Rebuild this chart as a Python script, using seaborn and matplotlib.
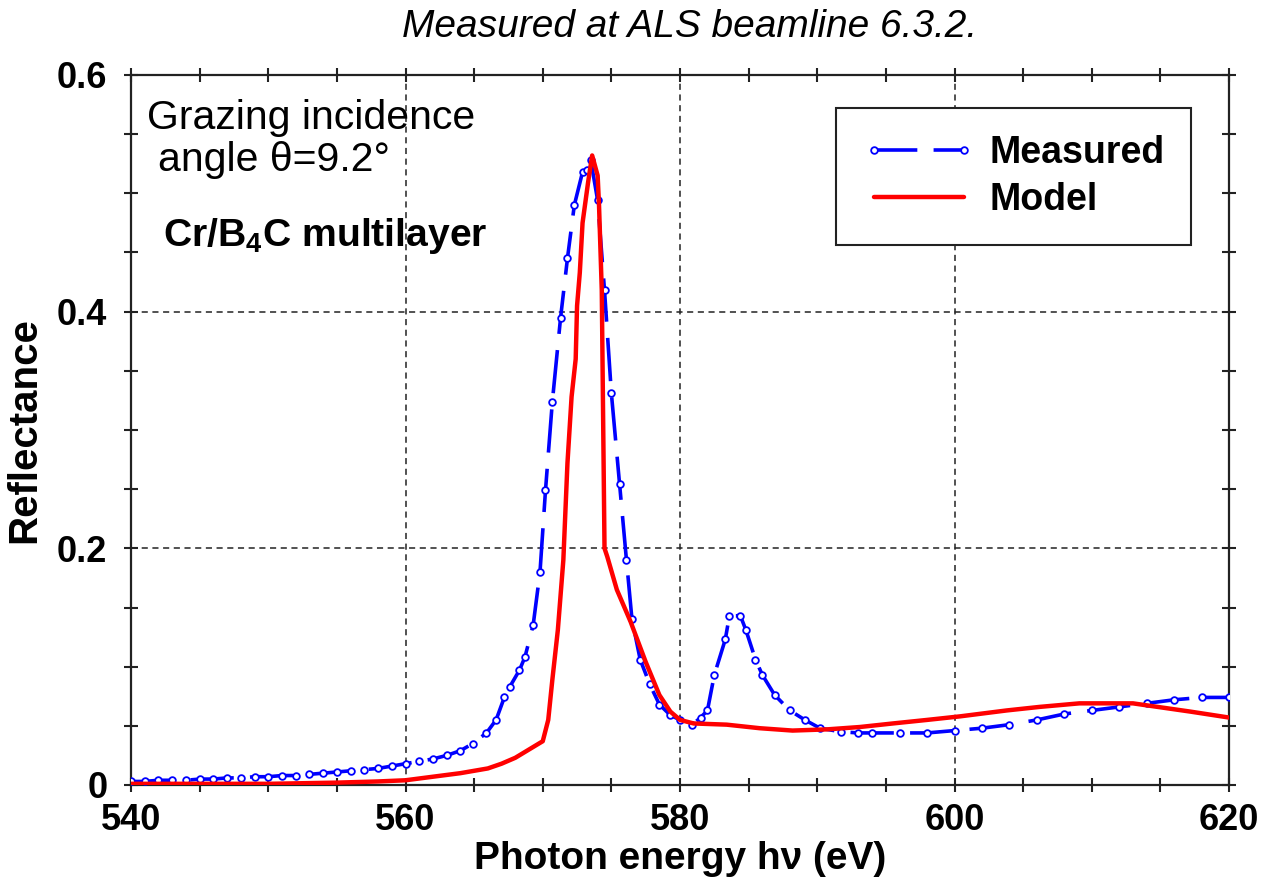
import numpy as np
import pandas as pd
import matplotlib
matplotlib.use("Agg")
import matplotlib.pyplot as plt
import seaborn as sns
from matplotlib.ticker import MultipleLocator

# ---------------- data ----------------
meas_energy = [540, 541, 542, 543, 544, 545, 546, 547, 548, 549, 550, 551, 552, 553,
               554, 555, 556, 557, 558, 559, 560, 561, 562, 563, 564, 564.9, 565.9,
               566.6, 567.2, 567.6, 568.3, 568.7, 569.3, 569.8, 570.2, 570.7, 571.3,
               571.8, 572.3, 572.9, 573.2, 573.5, 574.0, 574.5, 575.0, 575.6, 576.1,
               576.5, 577.1, 577.8, 578.5, 579.3, 580.0, 580.9, 581.5, 582.0, 582.5,
               583.3, 583.6, 584.4, 584.8, 585.5, 586.0, 586.9, 588.0, 589.1, 590.2,
               591.7, 593, 594, 596, 598, 600, 602, 604, 606, 608, 610, 612, 614, 616,
               618, 620]
meas_refl = [0.003, 0.003, 0.004, 0.004, 0.004, 0.005, 0.005, 0.006, 0.006, 0.007, 0.007,
             0.008, 0.008, 0.009, 0.010, 0.011, 0.012, 0.013, 0.014, 0.016, 0.018, 0.020,
             0.022, 0.025, 0.029, 0.035, 0.044, 0.055, 0.074, 0.083, 0.097, 0.108, 0.135,
             0.180, 0.249, 0.324, 0.395, 0.445, 0.490, 0.518, 0.520, 0.528, 0.494, 0.418,
             0.331, 0.254, 0.190, 0.140, 0.106, 0.085, 0.068, 0.059, 0.055, 0.051, 0.057,
             0.063, 0.093, 0.123, 0.143, 0.143, 0.131, 0.106, 0.093, 0.076, 0.063, 0.055,
             0.048, 0.045, 0.044, 0.044, 0.044, 0.044, 0.046, 0.048, 0.051, 0.055, 0.060,
             0.063, 0.066, 0.069, 0.072, 0.074, 0.074]

model_energy = [540, 545, 550, 555, 558, 560, 562, 564, 566, 567, 568, 569, 570.0, 570.4,
                570.7, 571.1, 571.5, 571.8, 572.1, 572.4, 572.5, 572.7, 572.9, 573.3,
                573.6, 574.0, 574.1, 574.3, 574.5, 574.7, 575.4, 576.4, 577.5, 578.5,
                579.3, 580.0, 581, 583.4, 585.8, 588.2, 590.7, 593.1, 595.5, 598, 600.4,
                603.8, 606.2, 609.1, 613, 614.8, 617.2, 620]
model_refl = [0.001, 0.001, 0.001, 0.002, 0.003, 0.004, 0.007, 0.010, 0.014, 0.018, 0.023,
              0.030, 0.037, 0.055, 0.089, 0.131, 0.190, 0.272, 0.328, 0.360, 0.405, 0.433,
              0.475, 0.509, 0.532, 0.515, 0.490, 0.418, 0.200, 0.193, 0.165, 0.138, 0.104,
              0.076, 0.062, 0.055, 0.052, 0.051, 0.048, 0.046, 0.047, 0.049, 0.052, 0.055,
              0.058, 0.063, 0.066, 0.069, 0.069, 0.066, 0.062, 0.057]

series_labels = ["Measured", "Model"]
x_ticks = [540, 560, 580, 600, 620]
x_tick_labels = ["540", "560", "580", "600", "620"]
y_ticks = [0, 0.2, 0.4, 0.6]
y_tick_labels = ["0", "0.2", "0.4", "0.6"]
x_label = "Photon energy h\u03bd (eV)"
y_label = "Reflectance"
title_text = "Measured at ALS beamline 6.3.2."
note_lines = ["Grazing incidence", "angle \u03b8=9.2\u00b0", r"Cr/B$_\mathbf{4}$C multilayer"]

# ---------------- style ----------------
sns.set_style("ticks")
plt.rcParams["font.family"] = ["Liberation Sans", "DejaVu Sans"]
plt.rcParams["mathtext.fontset"] = "custom"
plt.rcParams["mathtext.rm"] = "Liberation Sans"
plt.rcParams["mathtext.bf"] = "Liberation Sans:bold"
plt.rcParams["mathtext.it"] = "Liberation Sans:italic"
for key in ["text.color", "axes.labelcolor", "xtick.color", "ytick.color"]:
    plt.rcParams[key] = "black"

fig = plt.figure(figsize=(12.68, 8.85), dpi=100)
ax = fig.add_axes([131 / 1268, 1 - 785 / 885, (1229 - 131) / 1268, (785 - 75) / 885])

df_meas = pd.DataFrame({"energy": meas_energy, "refl": meas_refl})
df_model = pd.DataFrame({"energy": model_energy, "refl": model_refl})

sns.lineplot(data=df_meas, x="energy", y="refl", ax=ax, color="#0000ff",
             linewidth=2.6, marker="o", markersize=4.8, sort=False,
             markerfacecolor="white", markeredgecolor="#0000ff", markeredgewidth=1.3,
             legend=False, zorder=3)
sns.lineplot(data=df_model, x="energy", y="refl", ax=ax, color="#ff0000",
             linewidth=3.2, sort=False, legend=False, zorder=4)

meas_line, model_line = ax.lines[0], ax.lines[1]
meas_line.set_linestyle((0, (12, 4.5)))
meas_line.set_markerfacecolor("white")
meas_line.set_markeredgecolor("#0000ff")
model_line.set_linestyle("-")

ax.set_xlim(540, 620)
ax.set_ylim(0, 0.6)
ax.set_xticks(x_ticks, labels=x_tick_labels, fontsize=26, fontweight="bold")
ax.set_yticks(y_ticks, labels=y_tick_labels, fontsize=26, fontweight="bold")
ax.xaxis.set_minor_locator(MultipleLocator(5))
ax.yaxis.set_minor_locator(MultipleLocator(0.05))
ax.tick_params(which="both", direction="inout", top=True, right=True,
               width=1.5, length=10, color="#222222")
ax.tick_params(axis="x", which="major", pad=8)
ax.tick_params(axis="y", which="major", pad=12)

ax.grid(which="major", color="#222222", linestyle=(0, (4, 3)), linewidth=1.1)
ax.set_axisbelow(True)
for s in ax.spines.values():
    s.set_linewidth(1.6)
    s.set_color("#222222")
    s.set_visible(True)

ax.set_xlabel(x_label, fontsize=28, fontweight="bold", labelpad=2)
ax.set_ylabel(y_label, fontsize=29, fontweight="bold", labelpad=10)

fig.text(690 / 1268, 1 - 27 / 885, title_text, fontsize=28, style="italic",
         ha="center", va="center")

ax.annotate(note_lines[0], xy=(0.0146, 0.9395), xycoords="axes fraction",
            fontsize=29.5, ha="left", va="center")
ax.annotate(note_lines[1], xy=(0.0246, 0.8803), xycoords="axes fraction",
            fontsize=29.5, ha="left", va="center")
ax.annotate(note_lines[2], xy=(0.0291, 0.7732), xycoords="axes fraction",
            fontsize=28.2, fontweight="bold", ha="left", va="center")

leg = ax.legend(handles=[meas_line, model_line], labels=series_labels,
                loc="upper left", bbox_to_anchor=(0.642, 0.9535),
                borderaxespad=0, numpoints=2, handlelength=3.0,
                handletextpad=0.37, borderpad=0.72, labelspacing=0.3,
                frameon=True, fancybox=False, framealpha=1,
                prop={"size": 27, "weight": "bold"})
leg.get_frame().set_edgecolor("#222222")
leg.get_frame().set_linewidth(1.5)

fig.savefig("out.png", dpi=100)
